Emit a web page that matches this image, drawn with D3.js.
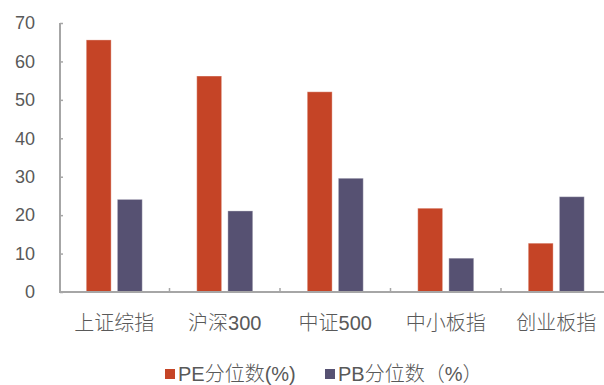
<!DOCTYPE html>
<html>
<head>
<meta charset="utf-8">
<script src="https://cdnjs.cloudflare.com/ajax/libs/d3/7.8.5/d3.min.js"></script>
<style>
  body { margin: 0; background: #fff; }
  svg text { font-family: "Liberation Sans", Arial, "Noto Sans CJK SC", sans-serif; fill: #595959; font-weight: 300; }
</style>
</head>
<body>
<script>
// data
var categories = ['上证综指', '沪深300', '中证500', '中小板指', '创业板指'];
var seriesNames = ['PE分位数(%)', 'PB分位数（%）'];
var peValues = [65.6, 56.2, 52.1, 21.8, 12.7];
var pbValues = [24.1, 21.1, 29.6, 8.8, 24.8];
var yTicks = [0, 10, 20, 30, 40, 50, 60, 70];
var colors = ['#c54426', '#565172'];

var width = 604, height = 385;

var svg = d3.select('body').append('svg')
	.attr('width', width)
	.attr('height', height);

// scales
var x = d3.scaleBand()
	.domain(categories)
	.range([59, 611.5]);

var x1 = d3.scaleBand()
	.domain([0, 1])
	.range([-28, 28])
	.paddingInner(0.2);

var y = d3.scaleLinear()
	.domain([0, 70])
	.range([292, 23]);

var axisColor = '#a6a6a6';

// bars
var rows = categories.map(function(c, i) {
	return { cat: c, vals: [peValues[i], pbValues[i]] };
});

var g = svg.selectAll('.grp')
	.data(rows)
	.enter().append('g')
	.attr('class', 'grp')
	.attr('transform', function(d) {
		return 'translate(' + (x(d.cat) + x.bandwidth() / 2) + ',0)';
	});

g.selectAll('rect')
	.data(function(d) { return d.vals; })
	.enter().append('rect')
	.attr('x', function(d, i) { return x1(i); })
	.attr('width', x1.bandwidth())
	.attr('y', function(d) { return y(d); })
	.attr('height', function(d) { return y(0) - y(d); })
	.style('fill', function(d, i) { return colors[i]; })
	.style('stroke', '#fff')
	.style('stroke-opacity', 0.35)
	.style('stroke-width', 1);

// y axis
var yAxis = svg.append('g')
	.attr('transform', 'translate(60,0)')
	.call(d3.axisRight(y).tickValues(yTicks).tickSize(3).tickPadding(-25));

yAxis.select('.domain').remove();
yAxis.selectAll('.tick line')
	.attr('stroke', axisColor)
	.attr('stroke-width', 1.5);
yAxis.selectAll('.tick text')
	.attr('text-anchor', 'end')
	.attr('x', -25)
	.style('font-size', '18px')
	.style('fill', '#595959');

svg.append('line')
	.attr('x1', 60).attr('x2', 60)
	.attr('y1', y(70)).attr('y2', y(0) + 1)
	.attr('stroke', axisColor)
	.attr('stroke-width', 2);

// x axis
svg.append('line')
	.attr('x1', 59).attr('x2', width)
	.attr('y1', y(0)).attr('y2', y(0))
	.attr('stroke', axisColor)
	.attr('stroke-width', 2);

svg.selectAll('.xtick')
	.data(categories.slice(1))
	.enter().append('line')
	.attr('class', 'xtick')
	.attr('x1', function(d) { return x(d); })
	.attr('x2', function(d) { return x(d); })
	.attr('y1', y(0)).attr('y2', y(0) - 4)
	.attr('stroke', axisColor)
	.attr('stroke-width', 1.5);

svg.selectAll('.xlabel')
	.data(categories)
	.enter().append('text')
	.attr('class', 'xlabel')
	.attr('x', function(d) { return x(d) + x.bandwidth() / 2; })
	.attr('y', 330)
	.attr('text-anchor', 'middle')
	.style('font-size', '20px')
	.text(function(d) { return d; });

// legend
var legendX = [165, 325];
var leg = svg.selectAll('.leg')
	.data(seriesNames)
	.enter().append('g')
	.attr('class', 'leg')
	.attr('transform', function(d, i) { return 'translate(' + legendX[i] + ',369)'; });

leg.append('rect')
	.attr('width', 10)
	.attr('height', 10)
	.style('fill', function(d, i) { return colors[i]; });

leg.append('text')
	.attr('x', 13)
	.attr('y', 12)
	.style('font-size', '20px')
	.text(function(d) { return d; });
</script>
</body>
</html>
